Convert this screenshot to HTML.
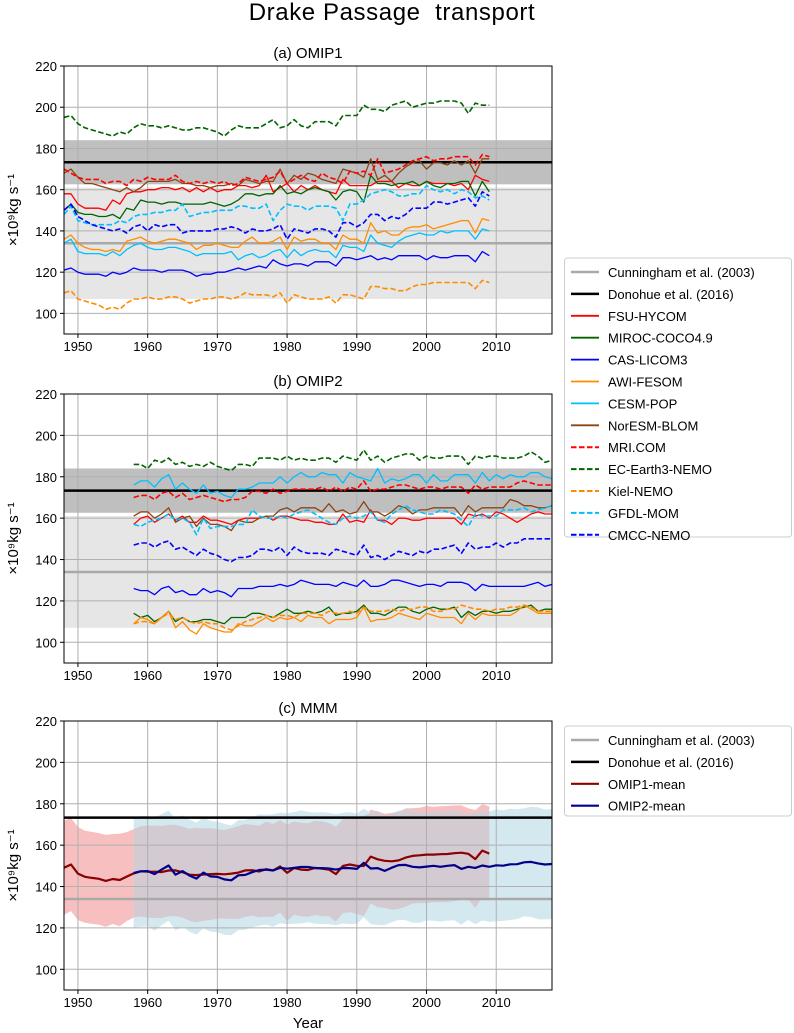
<!DOCTYPE html>
<html><head><meta charset="utf-8"><style>
html,body{margin:0;padding:0;background:#fff;}
svg{display:block;font-family:"Liberation Sans","DejaVu Sans",sans-serif;}
</style></head><body>
<svg id="chart" width="794" height="1033" viewBox="0 0 794 1033" xmlns="http://www.w3.org/2000/svg">
<text x="392" y="20" font-size="24" text-anchor="middle" style="white-space:pre" xml:space="preserve" letter-spacing="0.6">Drake Passage  transport</text>
</svg>
<script>
// ---------- data ----------
const obsCunningham = 134;
const obsCunninghamErr = 27;
const obsDonohue = 173.3;
const obsDonohueErr = 10.7;
const omip1Start = 1948;
const omip2Start = 1958;
const yTicks = [100,120,140,160,180,200,220];
const xTicks = [1950,1960,1970,1980,1990,2000,2010];
const modelNames = ["FSU-HYCOM","MIROC-COCO4.9","CAS-LICOM3","AWI-FESOM","CESM-POP","NorESM-BLOM","MRI.COM","EC-Earth3-NEMO","Kiel-NEMO","GFDL-MOM","CMCC-NEMO"];

const o1FSU=[158,158,153,151,151,151,150,155,153,158,159,159,160,160,161,161,160,161,159,161,159,161,159,160,160,162,162,161,162,167,159,161,163,159,162,160,162,160,159,158,165,162,162,162,162,164,164,164,161,163,162,162,164,163,163,163,162,163,160,167,165,164];
const o1MIROC=[150,153,149,148,148,147,147,148,146,151,150,155,154,154,153,154,154,153,153,153,153,154,153,152,153,155,158,158,157,158,158,162,158,159,158,160,161,160,159,155,159,160,159,154,167,163,163,162,163,163,164,162,164,162,161,163,163,164,164,157,164,159];
const o1LICOM=[121,122,120,119,119,119,118,120,119,120,122,121,121,121,120,121,121,121,120,118,119,119,120,120,121,122,121,122,123,122,126,124,123,124,124,123,125,125,125,123,127,127,126,127,128,126,127,126,128,128,128,128,126,128,127,127,128,128,128,125,130,128];
const o1AWI=[136,138,134,132,131,131,130,131,130,135,136,137,135,134,135,136,136,135,134,131,133,133,134,133,132,132,135,137,134,134,135,137,131,137,135,136,136,134,134,131,138,136,136,134,144,139,140,138,138,141,142,142,143,141,142,143,144,145,145,139,146,145];
const o1CESM=[134,136,130,129,129,129,128,130,128,131,133,134,132,131,131,132,132,131,130,128,129,129,129,129,130,126,128,129,127,128,130,131,127,131,128,130,131,130,130,127,133,132,132,130,138,134,133,132,135,137,138,139,138,138,140,139,140,140,140,136,141,140];
const o1NorESM=[168,170,166,163,163,162,161,160,159,161,159,161,164,164,164,164,165,163,163,162,162,161,162,162,163,162,165,164,163,164,164,170,163,167,165,168,167,165,164,163,170,169,168,166,175,165,167,164,168,171,173,174,170,173,173,172,174,172,174,168,175,175];
const o1MRI=[170,168,166,165,165,165,163,164,164,162,165,164,166,165,165,165,167,164,163,164,163,164,163,164,162,163,166,165,164,165,166,169,163,165,167,165,164,168,166,165,163,169,168,169,167,175,168,169,170,172,174,175,176,174,175,175,176,176,176,172,177,176];
const o1EC=[195,196,192,190,189,188,187,186,188,187,190,192,191,191,190,191,190,189,189,190,190,189,188,186,189,191,190,190,190,192,194,190,191,194,191,190,193,193,193,191,196,196,196,201,199,199,198,201,202,203,200,201,202,202,203,203,203,202,197,202,201,201];
const o1Kiel=[110,111,107,106,105,104,102,103,102,105,107,107,108,107,107,108,108,107,105,106,107,107,108,108,107,108,110,109,109,109,108,110,105,109,108,107,107,107,108,105,109,109,108,107,113,113,112,112,111,111,113,114,114,115,115,115,115,115,115,112,116,115];
const o1GFDL=[148,152,145,144,143,143,143,143,145,144,147,148,148,149,149,150,150,153,147,148,149,149,150,150,150,152,152,151,151,153,145,150,153,152,152,150,152,152,152,151,145,153,153,155,158,159,160,159,157,157,158,158,162,160,159,160,158,160,159,156,157,155];
const o1CMCC=[150,153,147,145,143,142,141,140,141,139,142,143,140,143,142,143,143,139,140,140,140,140,141,141,142,141,139,141,140,140,141,143,136,141,140,139,141,141,140,137,144,144,142,144,148,148,145,147,146,148,151,151,151,154,154,153,154,155,156,152,159,157];

const o2FSU=[157,160,161,158,160,162,159,161,158,158,161,159,159,158,157,159,160,160,160,161,159,161,161,160,159,159,158,158,157,157,162,158,159,158,164,159,159,157,160,160,159,159,160,160,160,160,160,157,162,161,162,160,163,162,160,158,160,162,163,162,162];
const o2MIROC=[114,112,113,110,112,115,110,112,110,110,111,111,110,109,112,112,112,114,114,113,112,114,116,114,114,115,114,115,117,113,114,114,115,118,114,114,113,115,117,117,115,114,116,117,116,116,117,112,115,113,115,115,114,115,115,116,117,118,115,116,116];
const o2LICOM=[126,125,125,123,126,127,124,125,123,123,126,124,125,124,122,126,126,126,127,127,127,128,127,128,130,129,128,128,128,127,129,128,127,130,127,127,128,130,130,129,128,127,128,128,127,129,129,129,128,125,128,127,127,127,127,127,127,128,129,127,128];
const o2AWI=[109,112,111,109,112,115,107,110,106,104,109,107,106,105,105,109,108,108,110,112,110,112,111,112,110,113,112,112,109,111,111,111,112,117,110,111,111,112,114,113,112,111,114,113,112,112,112,109,114,111,114,113,113,113,113,115,118,116,114,114,114];
const o2CESM=[176,178,178,175,179,181,174,177,174,172,176,172,173,171,170,174,174,175,177,177,177,180,177,180,182,180,180,182,181,181,177,182,180,179,178,184,177,179,178,179,181,181,177,181,178,178,181,181,181,177,182,178,181,179,181,180,180,182,182,180,179];
const o2NorESM=[161,163,163,160,162,165,158,160,161,156,160,157,157,156,154,159,158,158,160,161,161,164,165,163,165,165,165,163,167,163,164,162,163,168,163,163,161,163,166,165,162,164,164,165,165,165,165,161,166,163,165,165,165,165,169,168,166,166,165,165,166];
const o2MRI=[170,171,171,169,172,173,170,172,169,170,171,170,169,168,169,169,170,173,173,172,174,172,173,174,174,174,174,175,173,175,173,175,174,178,173,174,174,175,176,176,175,174,175,175,174,175,175,175,172,176,174,175,175,175,175,177,178,177,176,176,176];
const o2EC=[186,186,184,188,187,189,186,187,185,186,185,187,185,184,183,186,186,185,189,189,189,188,190,188,189,188,188,189,189,187,190,189,188,193,188,190,187,189,190,191,191,188,190,189,189,190,190,190,186,190,189,190,190,189,189,189,190,192,190,187,188];
const o2Kiel=[109,110,110,109,112,114,111,112,110,109,110,109,109,107,106,108,110,111,112,113,112,113,113,112,114,114,114,113,115,114,114,115,114,117,115,115,115,116,115,116,116,117,117,115,115,116,116,118,117,116,116,115,116,116,117,117,118,117,115,115,115];
const o2GFDL=[157,156,158,159,160,162,159,160,158,152,160,155,156,156,156,157,157,164,161,160,160,161,160,162,163,164,162,160,158,157,160,161,160,161,163,159,158,162,164,166,164,163,162,162,164,163,162,159,156,162,161,161,161,164,164,164,165,163,164,165,166];
const o2CMCC=[147,148,148,146,148,149,145,146,144,142,145,143,142,140,139,141,141,142,145,145,144,146,142,146,144,143,143,143,142,145,144,143,142,147,141,142,140,142,144,143,142,144,143,145,145,146,147,143,148,145,146,146,148,146,148,148,150,150,150,150,150];

// ---------- drawing ----------
const NS="http://www.w3.org/2000/svg";
const svg=document.getElementById('chart');
const X0=64,X1=552,XMIN=1948,XMAX=2018,YMIN=90,YMAX=220;
const xs=yr=>X0+(yr-XMIN)*(X1-X0)/(XMAX-XMIN);
const panels=[{top:66,bot:334,title:"(a) OMIP1"},{top:394,bot:663,title:"(b) OMIP2"},{top:721,bot:990,title:"(c) MMM"}];
function ysF(p){return v=>p.bot-(v-YMIN)*(p.bot-p.top)/(YMAX-YMIN);}
function mk(tag,attrs,parent){const e=document.createElementNS(NS,tag);for(const k in attrs)e.setAttribute(k,attrs[k]);(parent||svg).appendChild(e);return e;}

const styles=[
 {c:"#ff0000",d:false},{c:"#006400",d:false},{c:"#0000ff",d:false},{c:"#ff8c00",d:false},{c:"#00bfff",d:false},{c:"#8b4513",d:false},
 {c:"#ff0000",d:true},{c:"#006400",d:true},{c:"#ff8c00",d:true},{c:"#00bfff",d:true},{c:"#0000ff",d:true}];
const omip1=[o1FSU,o1MIROC,o1LICOM,o1AWI,o1CESM,o1NorESM,o1MRI,o1EC,o1Kiel,o1GFDL,o1CMCC].map(a=>a.slice(0,62));
const omip2=[o2FSU,o2MIROC,o2LICOM,o2AWI,o2CESM,o2NorESM,o2MRI,o2EC,o2Kiel,o2GFDL,o2CMCC].map(a=>a.slice(0,61));

function pathD(arr,start,ys){return arr.map((v,i)=>(i?"L":"M")+xs(start+i).toFixed(1)+","+ys(v).toFixed(1)).join("");}
function stats(set){const n=set[0].length,m=[],s=[];for(let i=0;i<n;i++){const vals=set.map(a=>a[i]).filter(v=>v!==undefined);const mu=vals.reduce((a,b)=>a+b,0)/vals.length;const sd=Math.sqrt(vals.reduce((a,b)=>a+(b-mu)*(b-mu),0)/vals.length);m.push(mu);s.push(sd);}return {m,s};}

panels.forEach((p,pi)=>{
 const ys=ysF(p);
 const g=mk('g',{});
 
 
 const cp=mk('clipPath',{id:'clip'+pi},g);
 mk('rect',{x:X0,y:p.top,width:X1-X0,height:p.bot-p.top},cp);
 const t=mk('text',{x:(X0+X1)/2,y:p.top-8,'font-size':15,'text-anchor':'middle'},g);t.textContent=p.title;
 
 
 const inner=mk('g',{'clip-path':'url(#clip'+pi+')'},g);
 if(pi<2){
  const b1=mk('rect',{x:X0,y:ys(obsCunningham+obsCunninghamErr),width:X1-X0,height:ys(obsCunningham-obsCunninghamErr)-ys(obsCunningham+obsCunninghamErr),fill:'#e6e6e6'},inner);
  
  
  const b2=mk('rect',{x:X0,y:ys(obsDonohue+obsDonohueErr),width:X1-X0,height:ys(obsDonohue-obsDonohueErr)-ys(obsDonohue+obsDonohueErr),fill:'#bfbfbf'},inner);
  
  
 } else {
  const s1=stats(omip1),s2=stats(omip2);
  const band=(st,start,fill,name)=>{const up=st.m.map((v,i)=>xs(start+i).toFixed(1)+","+ys(v+st.s[i]).toFixed(1));const dn=st.m.map((v,i)=>xs(start+i).toFixed(1)+","+ys(v-st.s[i]).toFixed(1)).reverse();const e=mk('polygon',{points:up.concat(dn).join(" "),fill:fill},inner);
   
   };
  band(s1,omip1Start,'#f7bfc0','omip1-spread-band');
  band(s2,omip2Start,'#d3e9ef','omip2-spread-band');
  const off=omip2Start-omip1Start,n=Math.min(s1.m.length-off,s2.m.length);
  const up=[],dn=[];
  for(let i=0;i<n;i++){const x=xs(omip2Start+i).toFixed(1);up.push(x+","+ys(Math.min(s1.m[i+off]+s1.s[i+off],s2.m[i]+s2.s[i])).toFixed(1));dn.push(x+","+ys(Math.max(s1.m[i+off]-s1.s[i+off],s2.m[i]-s2.s[i])).toFixed(1));}
  const ov=mk('polygon',{points:up.concat(dn.reverse()).join(" "),fill:'#d4cbd2'},inner);
  
  
 }
 xTicks.forEach(v=>{const l=mk('line',{x1:xs(v),x2:xs(v),y1:p.top,y2:p.bot,stroke:'#b0b0b0','stroke-width':1},inner);
  
  });
 yTicks.forEach(v=>{const l=mk('line',{x1:X0,x2:X1,y1:ys(v),y2:ys(v),stroke:'#b0b0b0','stroke-width':1},inner);
  
  });
 const lc=mk('line',{x1:X0,x2:X1,y1:ys(obsCunningham),y2:ys(obsCunningham),stroke:'#a9a9a9','stroke-width':2.5},inner);
 
 
 const ld=mk('line',{x1:X0,x2:X1,y1:ys(obsDonohue),y2:ys(obsDonohue),stroke:'#000','stroke-width':2.5},inner);
 
 
 if(pi<2){
  const set=pi==0?omip1:omip2,start=pi==0?omip1Start:omip2Start;
  set.forEach((arr,k)=>{const st=styles[k];const e=mk('path',{d:pathD(arr,start,ys),fill:'none',stroke:st.c,'stroke-width':st.d?1.6:1.3,'stroke-dasharray':st.d?'5.5,2.5':'none','stroke-linejoin':'round'},inner);
   
   });
 } else {
  const s1=stats(omip1),s2=stats(omip2);
  const m1=mk('path',{d:pathD(s1.m,omip1Start,ys),fill:'none',stroke:'#8b0000','stroke-width':2.2,'stroke-linejoin':'round'},inner);
  
  
  const m2=mk('path',{d:pathD(s2.m,omip2Start,ys),fill:'none',stroke:'#00008b','stroke-width':2.2,'stroke-linejoin':'round'},inner);
  
  
 }
 const fr=mk('rect',{x:X0,y:p.top,width:X1-X0,height:p.bot-p.top,fill:'none',stroke:'#000','stroke-width':1},g);
 
 
 yTicks.forEach(v=>{mk('line',{x1:X0-4,x2:X0,y1:ys(v),y2:ys(v),stroke:'#000'},g);
  const tx=mk('text',{x:X0-7,y:ys(v)+5,'font-size':13,'text-anchor':'end'},g);tx.textContent=v;
  
  });
 xTicks.forEach(v=>{mk('line',{x1:xs(v),x2:xs(v),y1:p.bot,y2:p.bot+4,stroke:'#000'},g);
  const tx=mk('text',{x:xs(v),y:p.bot+17,'font-size':13,'text-anchor':'middle'},g);tx.textContent=v;
  
  });
 const yl=mk('text',{x:0,y:0,'font-size':15,'text-anchor':'middle',transform:`translate(18,${(p.top+p.bot)/2+10}) rotate(-90)`},g);
 yl.textContent='×10⁹kg s⁻¹';
 
 
});
const xl=mk('text',{x:(X0+X1)/2,y:1028,'font-size':15,'text-anchor':'middle'});xl.textContent='Year';



function legend(y0,h,entries,name){
 const g=mk('g',{});
 
 
 mk('rect',{x:564.5,y:y0,width:227,height:h,rx:3,fill:'#fff',stroke:'#cccccc'},g);
 entries.forEach((e,i)=>{const y=y0+14+i*21.9;
  const l=mk('line',{x1:571,x2:599,y1:y,y2:y,stroke:e.c,'stroke-width':e.w,'stroke-dasharray':e.d?'5.5,2.5':'none'},g);
  
  
  const t=mk('text',{x:608,y:y+5,'font-size':13},g);t.textContent=e.n;
  
  });
}
const obsEntries=[{n:'Cunningham et al. (2003)',c:'#a9a9a9',w:2.5},{n:'Donohue et al. (2016)',c:'#000',w:2.5}];
legend(258,279,obsEntries.concat(modelNames.map((n,k)=>({n:n,c:styles[k].c,w:styles[k].d?2:1.8,d:styles[k].d}))),'legend-models');
legend(726,90,obsEntries.concat([{n:'OMIP1-mean',c:'#8b0000',w:2.2},{n:'OMIP2-mean',c:'#00008b',w:2.2}]),'legend-mmm');
</script>
</body></html>
